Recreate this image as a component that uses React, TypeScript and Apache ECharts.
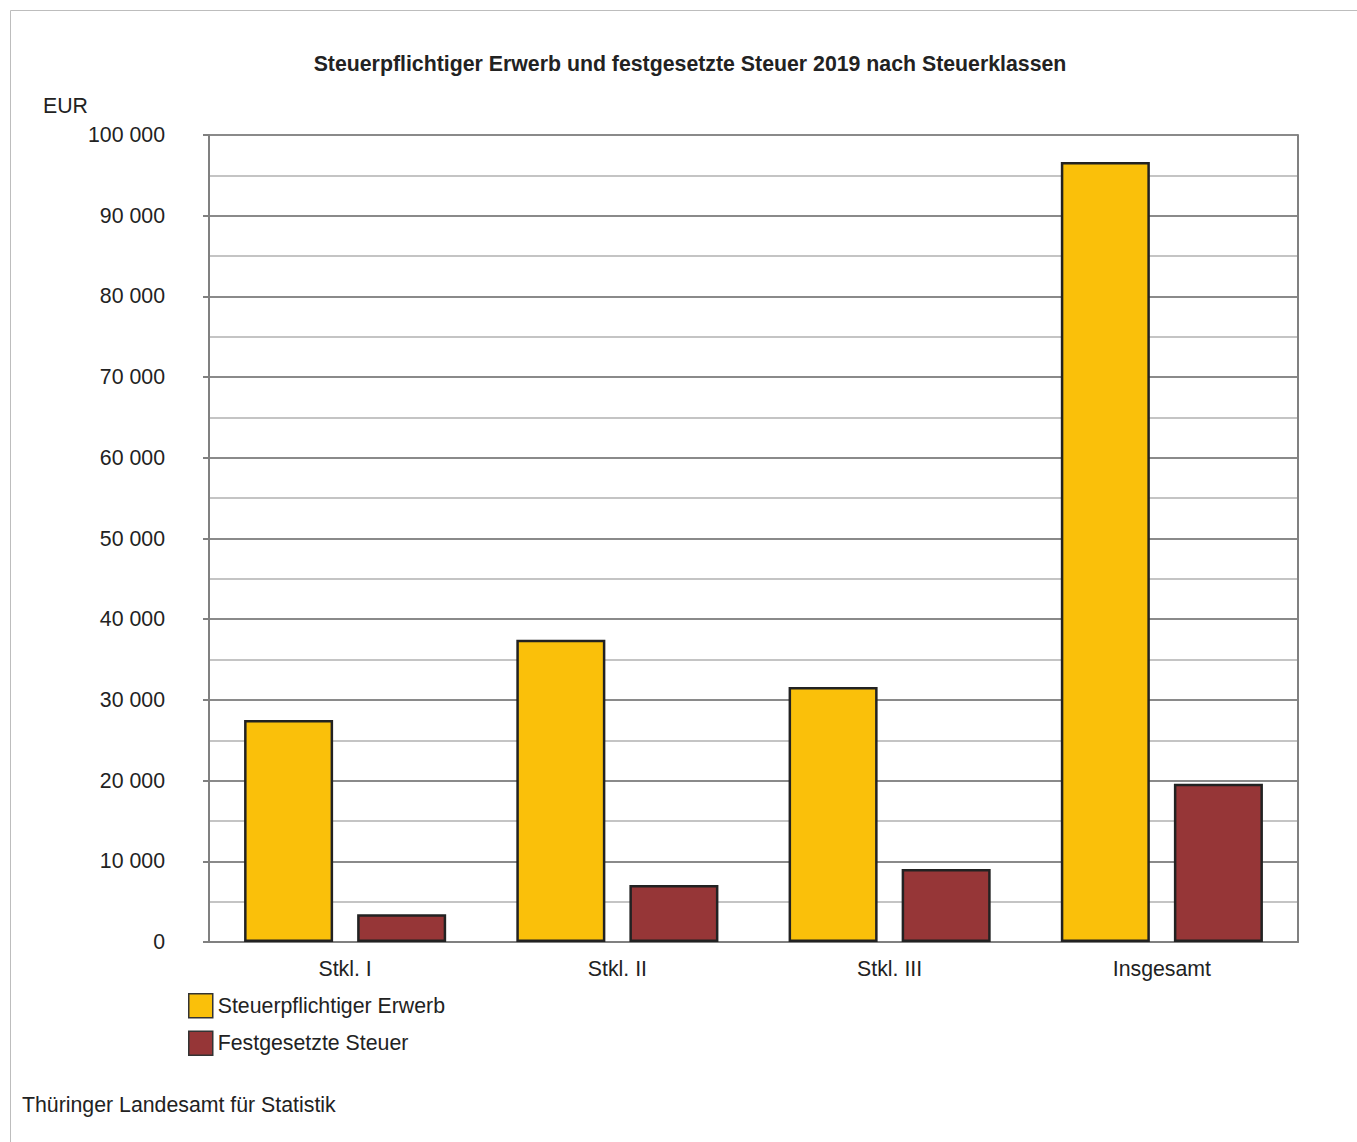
import React, { useEffect, useRef } from "react";
import * as echarts from "echarts";

const categories = ["Stkl. I", "Stkl. II", "Stkl. III", "Insgesamt"];
const erwerb = [27500, 37450, 31600, 96650];
const steuer = [3450, 7050, 9050, 19600];
const seriesNames = ["Steuerpflichtiger Erwerb", "Festgesetzte Steuer"];
const titleText = "Steuerpflichtiger Erwerb und festgesetzte Steuer 2019 nach Steuerklassen";
const unitText = "EUR";
const sourceText = "Thüringer Landesamt für Statistik";

const FONT = "'Liberation Sans', Arial, sans-serif";
const FS = 21.3;

export default function App() {
  const ref = useRef<HTMLDivElement>(null);
  useEffect(() => {
    const chart = echarts.init(ref.current!, null, { renderer: "svg" });
    const fmt = (v: number) => String(v).replace(/\B(?=(\d{3})+(?!\d))/g, " ");
    chart.setOption({
      animation: false,
      backgroundColor: "#ffffff",
      textStyle: { fontFamily: FONT },
      graphic: [
        {
          type: "polyline",
          shape: { points: [[10.5, 1200], [10.5, 10.5], [1400, 10.5]] },
          style: { stroke: "#bdbdbd", lineWidth: 1, fill: null },
          silent: true,
        },
        {
          type: "text",
          x: 690,
          y: 64,
          style: {
            text: titleText,
            fontFamily: FONT,
            fontWeight: "bold",
            fontSize: FS,
            fill: "#222",
            textAlign: "center",
            textVerticalAlign: "middle",
          },
        },
        {
          type: "text",
          x: 43,
          y: 106,
          style: {
            text: unitText,
            fontFamily: FONT,
            fontSize: FS,
            fill: "#222",
            textVerticalAlign: "middle",
          },
        },
        {
          type: "text",
          x: 22,
          y: 1105,
          style: {
            text: sourceText,
            fontFamily: FONT,
            fontSize: FS,
            fill: "#222",
            textVerticalAlign: "middle",
          },
        },
      ],
      grid: { left: 209, right: 59, top: 135, bottom: 200, containLabel: false },
      legend: {
        orient: "vertical",
        left: 183,
        top: 988,
        padding: 5,
        itemWidth: 24,
        itemHeight: 24,
        itemGap: 12,
        icon: "rect",
        textStyle: { fontFamily: FONT, fontSize: FS, color: "#222" },
        itemStyle: { borderColor: "#333", borderWidth: 1.5 },
        data: seriesNames,
      },
      xAxis: {
        type: "category",
        data: categories,
        axisLine: { show: true, lineStyle: { color: "#808080", width: 2 } },
        axisTick: { show: false },
        axisLabel: { fontFamily: FONT, fontSize: FS, color: "#222", margin: 16 },
      },
      yAxis: [
        {
          type: "value",
          min: 0,
          max: 100000,
          interval: 10000,
          axisLine: { show: true, lineStyle: { color: "#808080", width: 2 } },
          axisTick: { show: true, length: 6, lineStyle: { color: "#808080", width: 2 } },
          axisLabel: {
            fontFamily: FONT,
            fontSize: FS,
            color: "#222",
            margin: 44,
            formatter: (v: number) => fmt(v),
          },
          splitLine: { show: true, lineStyle: { color: "#8a8a8a", width: 2 } },
          minorTick: { show: false, splitNumber: 2 },
          minorSplitLine: { show: true, lineStyle: { color: "#c4c4c4", width: 2 } },
        },
        {
          type: "value",
          position: "right",
          min: 0,
          max: 100000,
          interval: 10000,
          axisLine: { show: true, lineStyle: { color: "#808080", width: 2 } },
          axisTick: { show: false },
          axisLabel: { show: false },
          splitLine: { show: false },
        },
      ],
      series: [
        {
          name: seriesNames[0],
          type: "bar",
          data: erwerb,
          barWidth: "32.7%",
          barGap: "27%",
          itemStyle: { color: "#FAC00A", borderColor: "#222", borderWidth: 2.5 },
        },
        {
          name: seriesNames[1],
          type: "bar",
          data: steuer,
          barWidth: "32.7%",
          itemStyle: { color: "#963637", borderColor: "#222", borderWidth: 2.5 },
        },
      ],
    });
    return () => chart.dispose();
  }, []);
  return (
    <div
      ref={ref}
      style={{ position: "absolute", left: 0, top: 0, width: 1357, height: 1142 }}
    />
  );
}
